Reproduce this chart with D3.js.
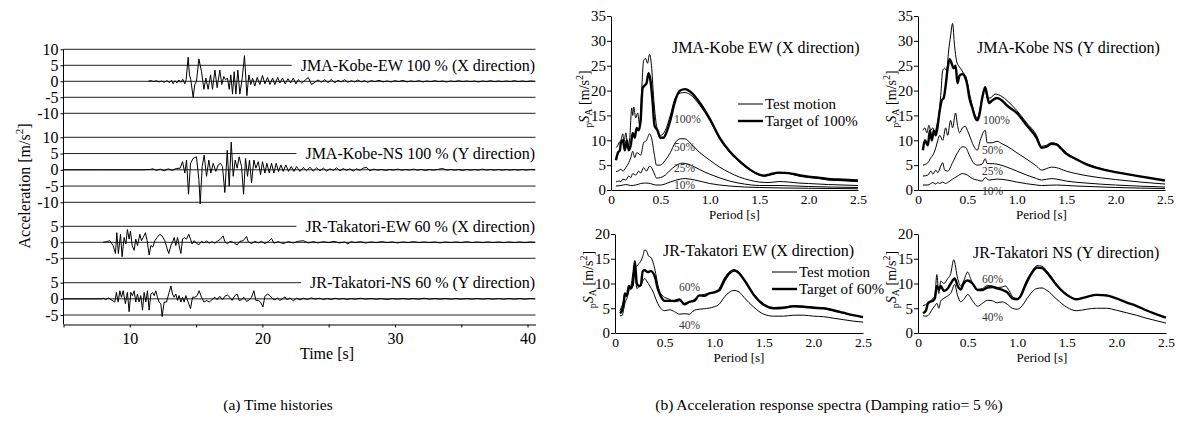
<!DOCTYPE html>
<html><head><meta charset="utf-8">
<script src="https://cdn.jsdelivr.net/npm/d3@7"></script>
<style>
body{margin:0;background:#fff}
svg{display:block}
svg text{font-family:"Liberation Serif","Times New Roman",serif !important}
</style>
</head><body>
<svg id="c" width="1177" height="425"></svg>
<script>
// ---------------- Time histories (time [s], acceleration [m/s2]) ----------------
const kobeEW = [[11.38,0],[11.6,0.2],[11.8,-0.1],[12.0,0.2],[12.2,-0.2],[12.4,0.1],[12.6,-0.3],[12.8,0.2],[13.0,-0.4],[13.15,0.3],[13.27,-0.8],[13.4,0.2],[13.55,-0.5],[13.7,0.4],[13.85,-0.3],[14.0,0.6],[14.15,-0.8],[14.25,0.5],[14.40,7.5],[14.50,2],[14.60,0.5],[14.78,-5],[14.9,-1],[15.03,0],[15.21,7],[15.41,3],[15.59,-2.5],[15.74,1],[15.91,-2.5],[16.09,2],[16.24,-2.5],[16.42,3.5],[16.59,-2],[16.79,3.5],[16.94,-1],[17.09,1.5],[17.22,0.5],[17.37,1],[17.50,-2.5],[17.62,2],[17.75,-4],[17.87,3],[18.00,-4],[18.15,3.5],[18.30,-4],[18.48,1],[18.65,8],[18.83,-4.5],[18.98,2],[19.13,-1],[19.26,1],[19.43,-1.5],[19.61,1.2],[19.81,-1],[20.01,1.8],[20.19,-0.8],[20.39,1.2],[20.57,-1],[20.77,1],[20.94,-1],[21.15,1.2],[21.32,-0.5],[21.52,1],[21.72,-0.8],[21.93,0.8],[22.13,-0.5],[22.33,1],[22.53,-0.8],[22.71,0.5],[22.96,-0.5],[23.21,0.3],[23.46,1.2],[23.71,-1],[23.96,-0.3],[24.2,0.4],[24.45,-0.3],[24.7,0.5],[24.95,-0.4],[25.2,0.6],[25.45,-0.5],[25.7,0.3],[25.95,-0.2],[26.2,0.5],[26.45,-0.3],[26.7,0.2],[26.95,-0.2],[27.2,0.4],[27.45,-0.2],[27.7,0.2],[27.95,-0.3],[28.2,0.2],[28.5,-0.1],[28.8,0.3],[29.1,-0.2],[29.4,0.1],[29.7,-0.2],[30.0,0.2],[30.3,-0.1],[30.6,0.3],[30.9,-0.2],[31.2,0.1],[31.5,-0.1],[31.8,0.2],[32.1,-0.2],[32.4,0.1],[32.7,-0.1],[33.0,0.2],[33.3,-0.1],[33.6,0.1],[33.9,-0.2],[34.2,0.1],[34.5,-0.1],[34.8,0.2],[35.1,-0.1],[35.4,0.1],[35.7,-0.1],[36.0,0.1],[36.3,-0.2],[36.6,0.1],[36.9,-0.1],[37.2,0.2],[37.5,-0.1],[37.8,0.1],[38.1,-0.1],[38.4,0.1],[38.7,-0.1],[39.0,0.2],[39.3,-0.1],[39.6,0.1],[39.9,-0.1],[40.2,0.1],[40.55,0]];

const kobeNS = [[5,0],[8,0],[11.0,0],[11.5,0.1],[11.76,0.3],[12.0,-0.2],[12.3,0.2],[12.6,-0.3],[12.9,0.3],[13.2,-0.2],[13.5,0.4],[13.8,0.5],[13.98,2.5],[14.15,-1],[14.28,3],[14.43,-7.5],[14.58,2],[14.78,3.5],[15.03,4],[15.21,-3],[15.31,-10.5],[15.46,1],[15.61,4.5],[15.79,-2],[15.96,3],[16.11,-1],[16.29,2],[16.49,-0.5],[16.67,1.5],[16.84,2],[16.99,1],[17.17,-7],[17.35,6],[17.50,-5],[17.65,8.5],[17.80,-2],[17.95,3],[18.10,0.5],[18.25,4],[18.43,1],[18.58,-7.5],[18.73,3.5],[18.88,-2],[19.03,3],[19.18,-4],[19.36,3],[19.51,0.5],[19.69,2.5],[19.86,-1.5],[20.01,2.5],[20.19,-1],[20.34,2],[20.52,-1],[20.69,2],[20.87,-1],[21.04,2],[21.22,-0.5],[21.40,1.5],[21.57,-0.5],[21.77,1.5],[21.97,-0.5],[22.18,1],[22.38,-0.5],[22.58,1],[22.83,-0.5],[23.08,0.7],[23.33,-0.3],[23.59,0.8],[23.84,-0.4],[24.09,0.6],[24.35,-0.3],[24.6,0.5],[24.85,-0.4],[25.1,0.3],[25.35,-0.2],[25.6,0.6],[25.85,-0.3],[26.1,0.4],[26.35,-0.2],[26.6,0.3],[26.85,-0.4],[27.1,0.3],[27.35,-0.2],[27.6,0.5],[27.85,0.8],[28.1,-0.3],[28.4,0.2],[28.7,-0.1],[29.0,0.1],[29.3,-0.2],[29.6,0.1],[29.9,-0.1],[30.2,0.2],[30.5,-0.1],[30.8,0.1],[31.1,-0.1],[31.4,0.2],[31.7,-0.1],[32.0,0.1],[32.3,-0.2],[32.6,0.1],[32.9,-0.1],[33.2,0.1],[33.6,0.4],[33.9,-0.1],[34.2,0.1],[34.5,-0.1],[34.8,0.1],[35.1,-0.2],[35.4,0.1],[35.7,-0.1],[36.0,0.1],[36.3,-0.1],[36.6,0.2],[36.9,-0.1],[37.2,0.1],[37.5,-0.1],[37.8,0.1],[38.1,-0.1],[38.4,0.1],[38.7,-0.1],[39.0,0.1],[39.3,-0.1],[39.6,0.1],[39.9,-0.1],[40.2,0.1],[40.55,0]];

const takatoriEW = [[7.99,0],[8.24,0.2],[8.49,0.5],[8.74,-1],[8.92,-3.5],[9.02,3],[9.14,-3.5],[9.30,2.5],[9.42,-4.5],[9.57,1.5],[9.70,-0.5],[9.82,4],[9.95,1],[10.05,3.5],[10.18,-1],[10.33,-2.5],[10.45,1],[10.58,-1],[10.76,2.5],[10.88,0.5],[11.01,1.5],[11.18,3],[11.31,0.5],[11.46,-4],[11.59,-1],[11.74,-1.5],[11.89,0.5],[12.06,1.5],[12.26,2.5],[12.44,2],[12.64,0.5],[12.82,-2],[12.94,-3.5],[13.10,-1],[13.22,0],[13.35,1.5],[13.47,-1],[13.60,1.5],[13.72,-1],[13.85,-3.5],[13.98,1],[14.10,1.5],[14.28,1],[14.45,2.5],[14.58,1],[14.70,-0.5],[14.86,0.5],[15.03,-0.3],[15.21,-0.8],[15.41,0.3],[15.59,-0.2],[15.79,0.4],[15.99,-0.3],[16.19,0.2],[16.42,-0.3],[16.62,0.4],[16.79,0.8],[17.04,2],[17.17,0.2],[17.37,-0.5],[17.55,0.3],[17.80,0],[18.10,-0.8],[18.30,0.3],[18.55,0.5],[18.81,1.8],[18.93,0.2],[19.18,-0.4],[19.43,0.3],[19.69,-0.2],[19.94,0.3],[20.19,-0.4],[20.44,0.2],[20.69,1.2],[20.87,-0.3],[21.19,0.2],[21.57,-0.4],[21.95,0.2],[22.33,-0.2],[22.71,0.3],[23.08,0.5],[23.46,-0.2],[23.84,0.2],[24.21,-0.2],[24.6,0.2],[25.0,-0.1],[25.4,0.3],[25.8,-0.2],[26.2,0.1],[26.45,-0.5],[26.7,0.2],[27.0,-0.1],[27.4,0.2],[27.8,-0.2],[28.2,0.1],[28.6,-0.1],[29.0,0.2],[29.4,-0.1],[29.8,0.1],[30.2,-0.2],[30.6,0.1],[31.0,-0.1],[31.4,0.2],[31.8,-0.1],[32.2,0.1],[32.6,-0.1],[33.0,0.1],[33.4,-0.2],[33.8,0.1],[34.2,-0.1],[34.6,0.1],[35.0,-0.1],[35.4,0.2],[35.8,-0.1],[36.2,0.1],[36.6,-0.1],[37.0,0.1],[37.4,-0.1],[37.8,0.1],[38.2,-0.1],[38.6,0.1],[39.0,-0.1],[39.4,0.1],[39.8,-0.1],[40.2,0.1],[40.55,0]];

const takatoriNS = [[5,0],[7.9,0],[8.0,0.2],[8.2,-0.2],[8.4,0.3],[8.6,-0.3],[8.87,-1],[8.99,2],[9.12,-1],[9.25,2.5],[9.37,0.5],[9.50,2.5],[9.67,-1.5],[9.82,2],[9.95,-4],[10.08,2],[10.20,1],[10.33,2.5],[10.45,-1],[10.58,1.5],[10.70,-1],[10.83,1],[10.96,-3.5],[11.08,2],[11.21,-1],[11.33,2.5],[11.46,-3.5],[11.59,1.5],[11.71,2],[11.84,1],[11.96,2.5],[12.09,0.5],[12.21,-1],[12.34,-1.5],[12.44,-5.5],[12.59,-1],[12.77,-1],[12.97,2],[13.10,4],[13.22,1.5],[13.35,0.5],[13.47,1.5],[13.60,-0.5],[13.72,1],[13.85,-1],[13.98,0.5],[14.10,-1],[14.23,1],[14.40,-1],[14.58,-3],[14.73,0.5],[14.91,0.5],[15.08,1],[15.23,2.5],[15.41,0.5],[15.59,-1],[15.79,-0.5],[15.99,-1],[16.19,-0.3],[16.42,0.5],[16.59,-0.3],[16.79,0.8],[16.99,-0.3],[17.17,0.8],[17.35,1.2],[17.55,0.5],[17.72,-0.5],[17.92,1],[18.10,1.5],[18.25,-0.5],[18.43,-0.3],[18.60,0.5],[18.81,-0.8],[19.01,-0.3],[19.18,0.5],[19.36,2.5],[19.51,-0.5],[19.69,-0.5],[19.86,-1],[20.04,-2.5],[20.19,0.8],[20.39,1.5],[20.57,1],[20.77,0],[20.94,-0.3],[21.12,0.3],[21.32,-0.5],[21.52,0],[21.70,0.6],[21.87,-0.3],[22.08,0.3],[22.33,-0.6],[22.58,0.2],[22.83,-0.3],[23.1,0.2],[23.4,-0.2],[23.7,0.3],[24.0,-0.1],[24.3,0.2],[24.6,-0.2],[24.9,0.1],[25.2,-0.2],[25.5,0.2],[25.8,-0.1],[26.1,0.1],[26.4,-0.2],[26.7,0.1],[27.0,-0.1],[27.4,0.2],[27.8,-0.1],[28.2,0.1],[28.6,-0.1],[29.0,0.1],[29.4,-0.2],[29.8,0.1],[30.2,-0.1],[30.6,0.1],[31.0,-0.1],[31.4,0.1],[31.8,-0.1],[32.2,0.2],[32.6,-0.1],[33.0,0.1],[33.4,-0.1],[33.8,0.1],[34.2,-0.1],[34.6,0.1],[35.0,-0.1],[35.4,0.1],[35.8,-0.1],[36.2,0.1],[36.6,-0.1],[37.0,0.1],[37.4,-0.1],[37.8,0.1],[38.2,-0.1],[38.6,0.1],[39.0,-0.1],[39.4,0.1],[39.8,-0.1],[40.2,0.1],[40.55,0]];

const thLabels = ["JMA-Kobe-EW 100 % (X direction)","JMA-Kobe-NS 100 % (Y direction)","JR-Takatori-EW 60 % (X direction)","JR-Takatori-NS 60 % (Y direction)"];
const thTicksWide = [10,5,0,-5,-10];
const thTicksNarrow = [5,0,-5];
const timeTicks = [5,10,15,20,25,30,35,40];

// ---------------- Response spectra (period [s], pSA [m/s2]) ----------------
const kobeEW_test100 = [[0.05,8.5],[0.07,9],[0.08,9.5],[0.1,10],[0.12,11.3],[0.13,9.5],[0.15,11.5],[0.17,8.5],[0.19,10.5],[0.21,16.5],[0.22,15],[0.23,16.7],[0.25,14.5],[0.27,15.5],[0.29,13],[0.31,20],[0.33,26],[0.35,26.5],[0.37,25.5],[0.39,27.3],[0.41,25],[0.43,19],[0.45,14.5],[0.48,11.5],[0.5,11],[0.55,12],[0.6,15],[0.65,18.5],[0.7,19.5],[0.75,19.6],[0.8,19.2],[0.9,17],[1.0,14],[1.1,10.3],[1.2,7.6],[1.3,5.6],[1.4,4.1],[1.5,3.0],[1.55,2.8],[1.6,3.0],[1.7,3.4],[1.8,3.3],[1.9,2.8],[2.0,2.5],[2.1,2.3],[2.2,2.0],[2.3,1.9],[2.4,1.8],[2.5,1.7]];
const kobeEW_target100 = [[0.05,6],[0.07,7.5],[0.09,8],[0.1,9.5],[0.12,10],[0.14,8],[0.16,10],[0.18,8],[0.2,9],[0.22,11.5],[0.24,10.5],[0.26,12.5],[0.28,12],[0.3,14],[0.32,20.5],[0.34,21],[0.36,21.5],[0.38,23.5],[0.4,22],[0.42,18],[0.44,13],[0.47,12],[0.5,10.5],[0.53,10.5],[0.56,11.5],[0.6,14],[0.65,18],[0.7,20],[0.75,20.3],[0.8,19.8],[0.9,17.5],[1.0,14.3],[1.1,10.5],[1.2,7.8],[1.3,5.8],[1.4,4.2],[1.5,3.1],[1.55,2.9],[1.6,3.1],[1.7,3.5],[1.8,3.4],[1.9,3.0],[2.0,2.7],[2.1,2.5],[2.2,2.2],[2.3,2.1],[2.4,2.0],[2.5,1.9]];
const kobeEW_test50 = [[0.05,3.7],[0.08,3.9],[0.1,4.2],[0.12,3.8],[0.15,4.5],[0.18,5.5],[0.2,6.5],[0.22,7.8],[0.24,6.5],[0.26,7.5],[0.28,7.3],[0.3,7],[0.33,9.5],[0.36,10],[0.39,11.3],[0.41,10.5],[0.44,7],[0.46,5],[0.5,5],[0.55,6],[0.6,7.5],[0.65,9.5],[0.7,10.3],[0.75,10.3],[0.8,9.5],[0.9,7.5],[1.0,6],[1.1,4.6],[1.2,3.5],[1.3,2.6],[1.4,2.0],[1.5,1.6],[1.6,1.5],[1.7,1.7],[1.8,1.6],[1.9,1.4],[2.0,1.3],[2.2,1.1],[2.5,0.9]];
const kobeEW_test25 = [[0.05,1.6],[0.08,1.8],[0.1,1.7],[0.12,2.2],[0.15,2],[0.18,2.8],[0.2,2.5],[0.22,3.3],[0.25,3],[0.28,3.8],[0.3,3.4],[0.33,4.5],[0.36,3.8],[0.39,4.8],[0.41,4.5],[0.44,3.2],[0.46,2.4],[0.5,2.5],[0.55,3],[0.6,4],[0.65,4.8],[0.72,5.4],[0.78,5.2],[0.85,4.6],[0.95,3.6],[1.05,2.8],[1.2,1.8],[1.35,1.2],[1.5,0.9],[1.7,0.9],[2.0,0.7],[2.5,0.5]];
const kobeEW_test10 = [[0.05,0.8],[0.1,0.9],[0.15,1.1],[0.2,0.9],[0.25,1.0],[0.3,1.3],[0.35,1.4],[0.4,1.3],[0.45,1.0],[0.5,1.0],[0.6,1.6],[0.7,2.2],[0.75,2.3],[0.85,2.0],[1.0,1.3],[1.2,0.8],[1.5,0.5],[2.0,0.35],[2.5,0.25]];

const kobeNS_test100 = [[0.05,12],[0.07,12.5],[0.09,11.5],[0.11,13],[0.13,12],[0.15,12.5],[0.17,11.5],[0.19,13],[0.21,15],[0.23,19],[0.25,24],[0.27,24.5],[0.29,24],[0.31,28],[0.33,31],[0.35,33.5],[0.37,29],[0.39,26],[0.41,25],[0.43,24.5],[0.46,23.5],[0.49,22.5],[0.52,19.5],[0.55,17],[0.58,15],[0.6,14.5],[0.63,16.5],[0.66,19.5],[0.68,20.5],[0.7,18.5],[0.73,18.5],[0.78,19.3],[0.85,18.8],[0.9,18],[1.0,16],[1.1,13.5],[1.2,11],[1.25,8.8],[1.3,9],[1.35,9.5],[1.4,9.3],[1.5,7.5],[1.6,6.3],[1.7,5.3],[1.8,4.6],[2.0,3.6],[2.2,2.9],[2.5,1.9]];
const kobeNS_target100 = [[0.05,8],[0.07,10],[0.1,9],[0.12,12],[0.14,10],[0.16,12],[0.18,11],[0.2,13],[0.22,16],[0.24,18],[0.26,18.5],[0.28,21],[0.3,24.5],[0.32,26.3],[0.34,25.5],[0.36,24.5],[0.38,25],[0.4,21.5],[0.42,23],[0.45,23.3],[0.48,22.5],[0.5,21],[0.52,18.5],[0.55,16.5],[0.58,14.5],[0.6,14],[0.62,15],[0.65,18.5],[0.68,20.7],[0.7,19],[0.72,17.5],[0.75,18],[0.8,18.5],[0.85,18],[0.9,17],[1.0,15.5],[1.1,13],[1.2,10.5],[1.25,8.5],[1.3,8.7],[1.35,9.3],[1.4,9.2],[1.45,8.3],[1.5,7.3],[1.6,6.2],[1.7,5.2],[1.8,4.5],[2.0,3.6],[2.2,2.9],[2.5,1.9]];
const kobeNS_test50 = [[0.05,5],[0.1,5.5],[0.13,6.5],[0.15,7],[0.18,8.5],[0.2,10],[0.22,11],[0.25,10],[0.28,12.5],[0.3,11],[0.33,14],[0.35,12.5],[0.38,15.5],[0.4,13],[0.42,11.5],[0.45,12.5],[0.48,12.8],[0.5,12],[0.53,10.5],[0.56,9],[0.6,8],[0.63,10],[0.68,12],[0.7,9.5],[0.75,9.5],[0.8,9.8],[0.85,9.3],[0.9,8.8],[1.0,7.5],[1.1,6.2],[1.2,4.8],[1.25,4.0],[1.3,4.3],[1.35,4.6],[1.4,4.5],[1.5,3.8],[1.6,3.3],[1.7,2.9],[2.0,2.1],[2.5,1.2]];
const kobeNS_test25 = [[0.05,2.8],[0.1,3.0],[0.13,3.8],[0.15,3.2],[0.18,4],[0.2,3.5],[0.23,4.8],[0.25,5.5],[0.27,4],[0.3,3.8],[0.35,5.5],[0.4,7.5],[0.45,8.7],[0.48,8.6],[0.52,7],[0.56,5.5],[0.6,5],[0.65,5.2],[0.68,6.3],[0.7,5.3],[0.75,5.3],[0.8,5.2],[0.9,4.6],[1.0,3.8],[1.1,3.0],[1.2,2.3],[1.25,2.0],[1.35,2.3],[1.4,2.2],[1.5,1.8],[1.7,1.4],[2.0,1.0],[2.5,0.6]];
const kobeNS_test10 = [[0.05,1.0],[0.1,1.0],[0.15,1.5],[0.18,1.2],[0.2,1.5],[0.22,1.3],[0.25,1.6],[0.28,1.3],[0.3,1.5],[0.35,2.2],[0.4,2.8],[0.45,3.3],[0.5,3.0],[0.55,2.3],[0.6,2.0],[0.65,1.8],[0.68,2.5],[0.72,2.0],[0.8,2.2],[0.9,2.0],[1.0,1.6],[1.2,1.0],[1.25,0.9],[1.4,1.0],[1.6,0.8],[2.0,0.5],[2.5,0.3]];

const takEW_test60 = [[0.05,4.5],[0.06,5],[0.08,6],[0.1,8],[0.12,7.5],[0.14,9],[0.16,9.5],[0.18,12],[0.2,13.5],[0.22,13.5],[0.24,14],[0.26,14.5],[0.28,15.5],[0.3,16.8],[0.32,16.5],[0.34,15.5],[0.36,15.3],[0.38,14.5],[0.4,13],[0.42,11],[0.44,9],[0.46,8],[0.48,7.5],[0.5,7.2],[0.55,6.8],[0.6,6.3],[0.65,6.5],[0.7,6],[0.75,6.2],[0.8,6.8],[0.85,7.5],[0.9,7.8],[1.0,8.3],[1.05,9],[1.1,11],[1.15,12.3],[1.2,12.8],[1.25,12.3],[1.3,10.8],[1.4,7.8],[1.5,5.8],[1.6,5.0],[1.7,5.2],[1.8,5.5],[1.9,5.4],[2.0,5.2],[2.1,5.0],[2.2,4.5],[2.3,4.0],[2.4,3.6],[2.5,3.2]];
const takEW_target60 = [[0.05,4],[0.07,4.5],[0.09,6.5],[0.1,8],[0.12,7.5],[0.14,9.5],[0.16,9],[0.18,10],[0.2,14.5],[0.22,10],[0.24,9.5],[0.26,9.7],[0.28,12.5],[0.3,12.7],[0.33,12.3],[0.36,12.5],[0.4,11.5],[0.43,9],[0.46,7.5],[0.5,6.5],[0.55,6.5],[0.6,6.5],[0.65,6.8],[0.7,5.8],[0.75,6.3],[0.8,6.5],[0.85,7.6],[0.9,7.5],[0.95,8],[1.0,8.2],[1.05,8.6],[1.1,10.5],[1.15,12],[1.2,12.6],[1.25,12.1],[1.3,10.8],[1.4,7.7],[1.5,5.7],[1.6,5.0],[1.7,5.1],[1.8,5.4],[1.9,5.3],[2.0,5.1],[2.1,5.0],[2.2,4.6],[2.3,4.1],[2.4,3.6],[2.5,3.2]];
const takEW_test40 = [[0.05,3.5],[0.07,3.5],[0.09,5],[0.1,6],[0.12,7],[0.14,8.5],[0.16,9.0],[0.18,9.5],[0.2,13],[0.22,9],[0.24,9.3],[0.26,9.5],[0.28,10.5],[0.3,11],[0.32,10.5],[0.35,9.5],[0.38,8.5],[0.4,7.5],[0.43,6],[0.46,5],[0.5,4.5],[0.55,4.7],[0.6,4.3],[0.65,3.8],[0.7,3.9],[0.75,3.8],[0.8,4.6],[0.85,4.8],[0.9,4.9],[1.0,5.3],[1.05,5.8],[1.1,7.2],[1.15,8.2],[1.2,8.6],[1.25,8.3],[1.3,7.2],[1.4,5.2],[1.5,3.8],[1.6,3.4],[1.7,3.4],[1.8,3.6],[1.9,3.6],[2.0,3.4],[2.1,3.3],[2.2,3.0],[2.3,2.7],[2.4,2.4],[2.5,2.2]];

const takNS_test60 = [[0.05,5.5],[0.1,6],[0.13,6.5],[0.15,7],[0.17,7.5],[0.19,11.8],[0.21,8],[0.23,10.5],[0.26,10],[0.3,11],[0.33,12],[0.36,14.8],[0.4,11],[0.43,9.5],[0.46,10.5],[0.5,12.3],[0.53,11],[0.56,9.5],[0.6,8.8],[0.65,9],[0.7,9.6],[0.75,9.5],[0.8,9.2],[0.85,9.3],[0.88,9.5],[0.92,8.5],[0.96,7.2],[1.0,7.0],[1.03,7.5],[1.08,10],[1.15,12.5],[1.2,13.6],[1.25,13.5],[1.3,12.5],[1.4,9.8],[1.5,7.8],[1.6,6.9],[1.7,7.3],[1.8,7.7],[1.9,7.5],[2.0,7.0],[2.1,6.2],[2.2,5.5],[2.3,4.6],[2.4,3.8],[2.5,3.1]];
const takNS_target60 = [[0.05,4],[0.08,4.5],[0.1,6],[0.12,6.3],[0.15,6.5],[0.17,7],[0.19,9.5],[0.21,8.8],[0.23,9.5],[0.26,8.5],[0.3,9],[0.33,10],[0.37,11],[0.4,9.5],[0.43,8.8],[0.46,10],[0.5,10.6],[0.55,10],[0.6,8.7],[0.65,8.7],[0.7,9.2],[0.75,9.3],[0.8,9],[0.85,8.7],[0.9,8.2],[0.95,7],[1.0,6.8],[1.03,7.3],[1.08,9.5],[1.15,12.2],[1.2,13.2],[1.25,13.1],[1.3,12.2],[1.4,9.6],[1.5,7.7],[1.6,6.8],[1.7,7.3],[1.8,7.7],[1.9,7.6],[2.0,7.0],[2.1,6.2],[2.2,5.5],[2.3,4.6],[2.4,3.8],[2.5,3.1]];
const takNS_test40 = [[0.05,3.5],[0.08,3.4],[0.1,3.5],[0.12,4],[0.15,5],[0.17,5.5],[0.19,6],[0.21,5],[0.23,6.5],[0.26,7],[0.3,7.5],[0.33,8],[0.37,9.8],[0.4,7.5],[0.43,6.3],[0.47,7],[0.5,7.8],[0.55,6.5],[0.6,5.4],[0.65,6],[0.7,6.6],[0.75,6.5],[0.8,6.1],[0.85,6.3],[0.9,5.8],[0.95,5],[1.0,4.8],[1.05,5.5],[1.1,7],[1.2,9.0],[1.25,9.1],[1.3,8.6],[1.4,6.8],[1.5,5.2],[1.6,4.5],[1.7,4.8],[1.8,5.0],[1.9,5.0],[2.0,4.6],[2.1,4.1],[2.2,3.6],[2.3,3.0],[2.4,2.5],[2.5,2.0]];

const periodTicks = [0,0.5,1.0,1.5,2.0,2.5];
const saTicksKobe = [0,5,10,15,20,25,30,35];
const saTicksTak = [0,5,10,15,20];
const spTitles = ["JMA-Kobe EW (X direction)","JMA-Kobe NS (Y direction)","JR-Takatori EW (X direction)","JR-Takatori NS (Y direction)"];
const legendTop = ["Test motion","Target of 100%"];
const legendBot = ["Test motion","Target of 60%"];
const captions = ["(a) Time histories","(b) Acceleration response spectra (Damping ratio= 5 %)"];

// ====================== drawing ======================
const svg = d3.select('#c');
const FONT = '"Liberation Serif","Times New Roman",serif';
function serif(sel, size) {
  return sel.attr('font-family', FONT).style('font-family', FONT).attr('font-size', size).attr('fill', '#000');
}

// ---- (a) time histories ----
const xT = d3.scaleLinear().domain([5, 40.6]).range([63.5, 535.5]);
const groups = [
  {data: kobeEW, label: thLabels[0], ticks: thTicksWide, dom:[-10,10], r:[113.3,49.3]},
  {data: kobeNS, label: thLabels[1], ticks: thTicksWide, dom:[-10,10], r:[202.3,137.3]},
  {data: takatoriEW, label: thLabels[2], ticks: thTicksNarrow, dom:[-5,5], r:[258.3,226.3]},
  {data: takatoriNS, label: thLabels[3], ticks: thTicksNarrow, dom:[-5,5], r:[315,282.7]}
];
const gA = svg.append('g').attr('font-family', FONT);
groups.forEach(gr => {
  const y = d3.scaleLinear().domain(gr.dom).range(gr.r);
  const g = gA.append('g');
  g.selectAll('line.grid').data(gr.ticks).join('line')
    .attr('x1', xT.range()[0]).attr('x2', xT.range()[1])
    .attr('y1', d => y(d)).attr('y2', d => y(d))
    .attr('stroke', '#222').attr('stroke-width', 1);
  const ax = g.append('g').attr('transform', `translate(${xT.range()[0]},0)`)
    .call(d3.axisLeft(y).tickValues(gr.ticks).tickSize(3).tickSizeOuter(0).tickPadding(2).tickFormat(d => String(d)));
  ax.attr('font-family', FONT);
  ax.select('.domain').remove();
  serif(ax.selectAll('text'), 16);
  const t = serif(g.append('text'), 16).attr('x', 535).attr('y', y(5)).attr('text-anchor', 'end')
    .attr('dominant-baseline', 'central').text(gr.label);
  const bb = t.node().getBBox();
  g.insert('rect', () => t.node()).attr('x', bb.x - 9).attr('y', y(5) - 2)
    .attr('width', 536 - bb.x + 9).attr('height', 4).attr('fill', '#fff');
  g.append('path').datum(gr.data)
    .attr('d', d3.line().x(d => xT(d[0])).y(d => y(d[1])))
    .attr('fill', 'none').attr('stroke', '#000').attr('stroke-width', 1).attr('stroke-linejoin', 'round');
});
gA.append('line').attr('x1', 63.5).attr('x2', 63.5).attr('y1', 49.3).attr('y2', 324.5).attr('stroke', '#000');
const axT = gA.append('g').attr('transform', 'translate(0,324.5)')
  .call(d3.axisBottom(xT).tickValues(timeTicks).tickSize(3).tickSizeOuter(0).tickPadding(5)
    .tickFormat(d => d % 10 === 0 ? String(d) : ''));
axT.attr('font-family', FONT);
serif(axT.selectAll('text'), 16);
axT.select('.domain').attr('stroke', '#000');
serif(gA.append('text'), 16).attr('x', 327).attr('y', 359).attr('text-anchor', 'middle').text('Time [s]');
const yl = serif(gA.append('text'), 16).attr('transform', 'translate(30,186) rotate(-90)').attr('text-anchor', 'middle');
yl.append('tspan').text('Acceleration [m/s');
yl.append('tspan').attr('font-size', 11).attr('dy', -7).text('2');
yl.append('tspan').attr('dy', 7).text(']');

// ---- (b) spectra ----
const panels = [
  {x0:611, x1:858, y0:190, y1:16, ymax:35, ticks:saTicksKobe, title:spTitles[0], tx:672, ty:53,
   thin:[kobeEW_test100,kobeEW_test50,kobeEW_test25,kobeEW_test10], thick:[kobeEW_target100],
   pct:[['100%',674,123],['50%',674,151],['25%',674,172],['10%',674,189]],
   legend:{items:legendTop, x:738, y:104}, ylx:589},
  {x0:918, x1:1165, y0:190, y1:16, ymax:35, ticks:saTicksKobe, title:spTitles[1], tx:977, ty:53,
   thin:[kobeNS_test100,kobeNS_test50,kobeNS_test25,kobeNS_test10], thick:[kobeNS_target100],
   pct:[['100%',983,124],['50%',982,154],['25%',982,175],['10%',982,195]], legend:null, ylx:896},
  {x0:615, x1:863, y0:333, y1:234, ymax:20, ticks:saTicksTak, title:spTitles[2], tx:663, ty:256,
   thin:[takEW_test60,takEW_test40], thick:[takEW_target60],
   pct:[['60%',679,291],['40%',679,329]],
   legend:{items:legendBot, x:772, y:272}, ylx:593},
  {x0:918, x1:1166, y0:333, y1:234, ymax:20, ticks:saTicksTak, title:spTitles[3], tx:973, ty:258,
   thin:[takNS_test60,takNS_test40], thick:[takNS_target60],
   pct:[['60%',982,283],['40%',982,321]], legend:null, ylx:896}
];
panels.forEach(p => {
  const g = svg.append('g').attr('font-family', FONT);
  const x = d3.scaleLinear().domain([0, 2.5]).range([p.x0, p.x1]);
  const y = d3.scaleLinear().domain([0, p.ymax]).range([p.y0, p.y1]);
  const ax = g.append('g').attr('transform', `translate(${p.x0},0)`)
    .call(d3.axisLeft(y).tickValues(p.ticks).tickSize(4).tickSizeOuter(0).tickPadding(1).tickFormat(d => String(d)));
  ax.attr('font-family', FONT);
  serif(ax.selectAll('text'), 15);
  const bx = g.append('g').attr('transform', `translate(0,${p.y0})`)
    .call(d3.axisBottom(x).tickValues(periodTicks).tickSize(0).tickSizeOuter(0).tickPadding(4)
      .tickFormat(d => d === 0 ? '0' : d3.format('.1f')(d)));
  bx.attr('font-family', FONT);
  serif(bx.selectAll('text'), 13.5);
  serif(g.append('text'), 13).attr('x', (p.x0 + p.x1) / 2).attr('y', p.y0 + 29).attr('text-anchor', 'middle')
    .text('Period [s]');
  const line = d3.line().x(d => x(d[0])).y(d => y(d[1])).curve(d3.curveMonotoneX);
  p.thin.forEach(s => g.append('path').datum(s).attr('d', line).attr('fill', 'none')
    .attr('stroke', '#000').attr('stroke-width', 1));
  p.thick.forEach(s => g.append('path').datum(s).attr('d', line).attr('fill', 'none')
    .attr('stroke', '#000').attr('stroke-width', 2.4).attr('stroke-linejoin', 'round'));
  serif(g.append('text'), 16).attr('x', p.tx).attr('y', p.ty).text(p.title);
  p.pct.forEach(([t, px, py]) => serif(g.append('text'), 11.5).attr('x', px).attr('y', py)
    .attr('fill', '#333').text(t));
  if (p.legend) {
    p.legend.items.forEach((t, i) => {
      const ly = p.legend.y + i * 17;
      g.append('line').attr('x1', p.legend.x).attr('x2', p.legend.x + 25).attr('y1', ly).attr('y2', ly)
        .attr('stroke', '#000').attr('stroke-width', i === 0 ? 1 : 2.4);
      serif(g.append('text'), 15).attr('x', p.legend.x + 27).attr('y', ly + 5).text(t);
    });
  }
  const cy = (p.y0 + p.y1) / 2 - 4;
  const t = serif(g.append('text'), 14).attr('transform', `translate(${p.ylx},${cy}) rotate(-90)`)
    .attr('text-anchor', 'middle');
  t.append('tspan').attr('font-size', 10).attr('dy', 3).text('p');
  t.append('tspan').attr('dy', -3).attr('font-style', 'italic').text('S');
  t.append('tspan').attr('font-size', 10).attr('dy', 3).text('A');
  t.append('tspan').attr('dy', -3).text(' [m/s');
  t.append('tspan').attr('font-size', 10).attr('dy', -6).text('2');
  t.append('tspan').attr('dy', 6).text(']');
});

// captions
serif(svg.append('text'), 15.5).attr('x', 278).attr('y', 410).attr('text-anchor', 'middle').text(captions[0]);
serif(svg.append('text'), 15.5).attr('x', 829).attr('y', 410).attr('text-anchor', 'middle').text(captions[1]);
</script>
</body></html>
